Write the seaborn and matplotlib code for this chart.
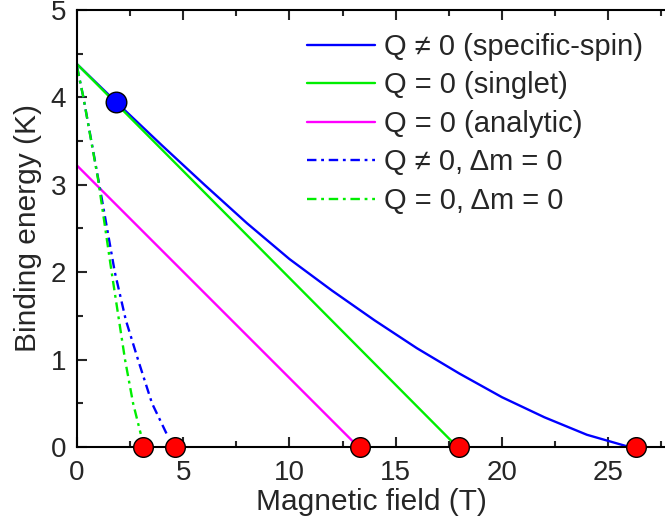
"""
plot.py

binding energy versus magnetic field
"""

import matplotlib
matplotlib.use("Agg")
import matplotlib.pyplot as plt
import seaborn as sns
from matplotlib.ticker import MultipleLocator

# Q != 0 (specific-spin)
field_spin = [0, 2, 4, 6, 8, 10, 12, 14, 16, 18, 20, 22, 24, 26]
energy_spin = [4.38, 3.91, 3.45, 3.0, 2.56, 2.15, 1.79, 1.45, 1.13, 0.84, 0.57, 0.34, 0.14, 0.0]

# Q = 0 (singlet)
field_singlet = [0, 17.7]
energy_singlet = [4.38, 0.05]

# Q = 0 (analytic)
field_analytic = [0, 13.0]
energy_analytic = [3.22, 0.06]

# Q != 0, dm = 0
field_spin_dm = [0, 0.3, 1.05, 1.78, 2.3, 2.87, 3.53, 4.24]
energy_spin_dm = [4.35, 4.0, 3.0, 2.0, 1.45, 1.0, 0.5, 0.14]

# Q = 0, dm = 0
field_singlet_dm = [0, 0.3, 1.0, 1.63, 2.26, 2.64, 3.0]
energy_singlet_dm = [4.35, 4.0, 3.05, 2.0, 1.0, 0.5, 0.15]

# critical fields (red) and the blue point
crit_field = [3.1, 4.6, 13.3, 18.0, 26.3]
crit_energy = [0, 0, 0, 0, 0]
point_field = [1.84]
point_energy = [3.95]

labels = ["Q \u2260 0 (specific-spin)", "Q = 0 (singlet)", "Q = 0 (analytic)",
          "Q \u2260 0, \u0394m = 0", "Q = 0, \u0394m = 0"]

sns.set_theme(style="ticks")
plt.rcParams["font.family"] = ["Liberation Sans", "DejaVu Sans"]

fig = plt.figure(figsize=(6.65, 5.23), dpi=100)
ax = fig.add_axes([0.1158, 0.1453, 0.885, 0.8357])

dashdot = (0, (4, 2, 1.2, 2))
sns.lineplot(x=field_spin, y=energy_spin, color="#0000ff", lw=1.7, ax=ax, label=labels[0], sort=False)
sns.lineplot(x=field_singlet, y=energy_singlet, color="#00ee00", lw=1.7, ax=ax, label=labels[1], sort=False)
sns.lineplot(x=field_analytic, y=energy_analytic, color="#ff00ff", lw=1.7, ax=ax, label=labels[2], sort=False)
sns.lineplot(x=field_spin_dm, y=energy_spin_dm, color="#0000ff", lw=1.7, linestyle=dashdot,
             ax=ax, label=labels[3], sort=False)
sns.lineplot(x=field_singlet_dm, y=energy_singlet_dm, color="#00ee00", lw=1.7, linestyle=dashdot,
             ax=ax, label=labels[4], sort=False)

sns.scatterplot(x=crit_field, y=crit_energy, color="#ff0000", s=200, edgecolor="black",
                linewidth=1, ax=ax, clip_on=False, zorder=10)
sns.scatterplot(x=point_field, y=point_energy, color="#0000ff", s=220, edgecolor="black",
                linewidth=1, ax=ax, clip_on=False, zorder=10)

ax.set_xlim(0, 27.7)
ax.set_ylim(0, 5)
ax.xaxis.set_major_locator(MultipleLocator(5))
ax.xaxis.set_minor_locator(MultipleLocator(2.5))
ax.yaxis.set_major_locator(MultipleLocator(1))
ax.yaxis.set_minor_locator(MultipleLocator(0.5))
ax.tick_params(which="both", direction="in", top=True, right=False, width=1.5, labelsize=20)
ax.tick_params(axis="x", pad=9)
ax.tick_params(axis="y", pad=8)
ax.tick_params(which="major", length=7)
ax.tick_params(which="minor", length=4)
for side in ["left", "bottom", "top"]:
    ax.spines[side].set_linewidth(1.5)
    ax.spines[side].set_color("black")
ax.spines["right"].set_visible(False)

ax.set_xlabel("Magnetic field (T)", fontsize=21.5, labelpad=2)
ax.set_ylabel("Binding energy (K)", fontsize=21.5, labelpad=6)

ax.legend(loc="upper left", bbox_to_anchor=(0.461, 0.937), bbox_transform=fig.transFigure,
          frameon=False, fontsize=21, handlelength=2.35, handletextpad=0.3, labelspacing=0.36,
          borderpad=0, borderaxespad=0)

fig.savefig("out.png", dpi=100)
